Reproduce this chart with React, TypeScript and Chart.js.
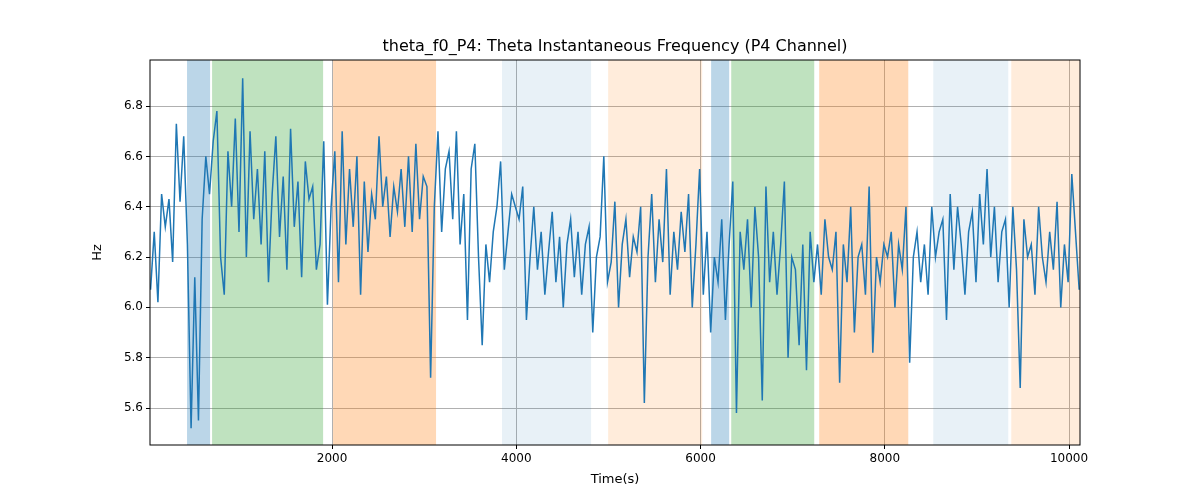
import React, { useEffect, useRef } from "react";
import { Chart, registerables } from "chart.js";
Chart.register(...registerables);

const T0 = 30;
const STEP = 40;
const values = [
6.07,6.30,6.02,6.45,6.32,6.43,6.18,6.73,6.42,6.68,6.25,5.52,6.12,5.55,6.35,6.60,6.45,6.66,6.78,6.20,6.05,6.62,6.40,6.75,6.30,
6.91,6.20,6.70,6.35,6.55,6.25,6.62,6.10,6.45,6.68,6.28,6.52,6.15,6.71,6.32,6.50,6.12,6.58,6.43,6.48,6.15,6.25,6.66,6.01,6.40,
6.62,6.10,6.70,6.25,6.55,6.32,6.60,6.05,6.50,6.22,6.45,6.35,6.68,6.40,6.52,6.28,6.48,6.38,6.55,6.32,6.60,6.30,6.65,6.35,6.52,
6.48,5.72,6.40,6.70,6.30,6.55,6.62,6.35,6.70,6.25,6.45,5.95,6.55,6.65,6.20,5.85,6.25,6.10,6.30,6.40,6.58,6.15,6.30,6.45,6.40,
6.35,6.48,5.95,6.20,6.40,6.15,6.30,6.05,6.22,6.38,6.10,6.28,6.00,6.25,6.35,6.12,6.30,6.05,6.25,6.32,5.90,6.20,6.28,6.60,6.10,
6.18,6.42,6.00,6.25,6.35,6.12,6.28,6.22,6.40,5.62,6.20,6.45,6.10,6.35,6.18,6.55,6.05,6.30,6.15,6.38,6.22,6.45,6.00,6.25,6.55,
6.05,6.30,5.90,6.20,6.10,6.35,5.95,6.25,6.50,5.58,6.30,6.15,6.35,6.00,6.40,6.20,5.63,6.48,6.10,6.30,6.05,6.25,6.50,5.80,6.20,
6.15,5.85,6.25,5.75,6.30,6.10,6.25,6.05,6.35,6.20,6.15,6.30,5.70,6.25,6.10,6.40,5.90,6.20,6.25,6.05,6.48,5.82,6.20,6.10,6.25,
6.20,6.30,6.00,6.25,6.15,6.40,5.78,6.20,6.30,6.10,6.25,6.05,6.40,6.20,6.30,6.35,5.95,6.45,6.15,6.40,6.25,6.05,6.30,6.38,6.10,
6.45,6.25,6.55,6.20,6.40,6.10,6.30,6.35,6.00,6.40,6.15,5.68,6.35,6.20,6.25,6.05,6.40,6.20,6.10,6.30,6.15,6.42,6.00,6.25,6.10,
6.53,6.30,6.07,
];
const spanStarts = [426, 698, 2011, 3845, 4997, 6115, 6333, 7288, 8526, 9373];
const spanEnds = [676, 1903, 3129, 4812, 6018, 6311, 7234, 8255, 9340, 10119];
const spanColors = [
  "rgba(31,119,180,0.3)", "rgba(44,160,44,0.3)", "rgba(255,127,14,0.3)",
  "rgba(31,119,180,0.1)", "rgba(255,127,14,0.15)",
  "rgba(31,119,180,0.3)", "rgba(44,160,44,0.3)", "rgba(255,127,14,0.3)",
  "rgba(31,119,180,0.1)", "rgba(255,127,14,0.15)",
];
const TITLE = "theta_f0_P4: Theta Instantaneous Frequency (P4 Channel)";
const X_TITLE = "Time(s)";
const Y_TITLE = "Hz";

export default function App() {
  const ref = useRef<HTMLCanvasElement>(null);
  useEffect(() => {
    document.body.style.margin = "0";
    const pts = values.map((v, i) => ({ x: T0 + i * STEP, y: v }));
    const spans = {
      id: "spans",
      beforeDatasetsDraw(c: any) {
        const { ctx, chartArea: a, scales } = c;
        ctx.save();
        spanStarts.forEach((s, i) => {
          const x1 = Math.max(scales.x.getPixelForValue(s), a.left);
          const x2 = Math.min(scales.x.getPixelForValue(spanEnds[i]), a.right);
          ctx.fillStyle = spanColors[i];
          ctx.fillRect(x1, a.top, x2 - x1, a.bottom - a.top);
        });
        ctx.restore();
      },
      afterDraw(c: any) {
        const { ctx, chartArea: a } = c;
        ctx.save();
        ctx.strokeStyle = "#000";
        ctx.lineWidth = 1;
        ctx.strokeRect(a.left, a.top, a.right - a.left, a.bottom - a.top);
        ctx.fillStyle = "#000";
        ctx.font = "16px 'DejaVu Sans'";
        ctx.textAlign = "center";
        ctx.textBaseline = "bottom";
        ctx.fillText(TITLE, (a.left + a.right) / 2, a.top - 5);
        ctx.font = "13px 'DejaVu Sans'";
        ctx.textBaseline = "top";
        ctx.fillText(X_TITLE, (a.left + a.right) / 2, a.bottom + 28);
        ctx.translate(a.left - 52, (a.top + a.bottom) / 2);
        ctx.rotate(-Math.PI / 2);
        ctx.textBaseline = "bottom";
        ctx.fillText(Y_TITLE, 0, 6);
        ctx.restore();
      },
    };
    const chart = new Chart(ref.current!, {
      type: "line",
      data: { datasets: [{ data: pts, borderColor: "#1f77b4", borderWidth: 1.5, pointRadius: 0, tension: 0 }] },
      options: {
        animation: false,
        responsive: false,
        layout: { padding: { top: 60, right: 120, left: 0, bottom: 0 } },
        plugins: { legend: { display: false }, tooltip: { enabled: false } },
        scales: {
          x: {
            type: "linear", min: 24, max: 10119,
            afterFit: (s: any) => { s.height = 55; },
            afterBuildTicks: (s: any) => { s.ticks = [2000, 4000, 6000, 8000, 10000].map(v => ({ value: v })); },
            grid: { color: "#b0b0b0", drawTicks: true, tickLength: 4, tickColor: "#000" },
            border: { display: false },
            ticks: { color: "#000", font: { family: "DejaVu Sans", size: 12 }, maxRotation: 0, callback: (v: any) => String(v) },
          },
          y: {
            min: 5.453, max: 6.983,
            afterFit: (s: any) => { s.width = 150; },
            afterBuildTicks: (s: any) => { s.ticks = [5.6, 5.8, 6.0, 6.2, 6.4, 6.6, 6.8].map(v => ({ value: v })); },
            grid: { color: "#b0b0b0", tickLength: 4, tickColor: "#000" },
            border: { display: false },
            ticks: { color: "#000", font: { family: "DejaVu Sans", size: 12 }, callback: (v: any) => Number(v).toFixed(1) },
          },
        },
      },
      plugins: [spans],
    });
    return () => chart.destroy();
  }, []);
  return <canvas ref={ref} width={1200} height={500} style={{ display: "block" }} />;
}
